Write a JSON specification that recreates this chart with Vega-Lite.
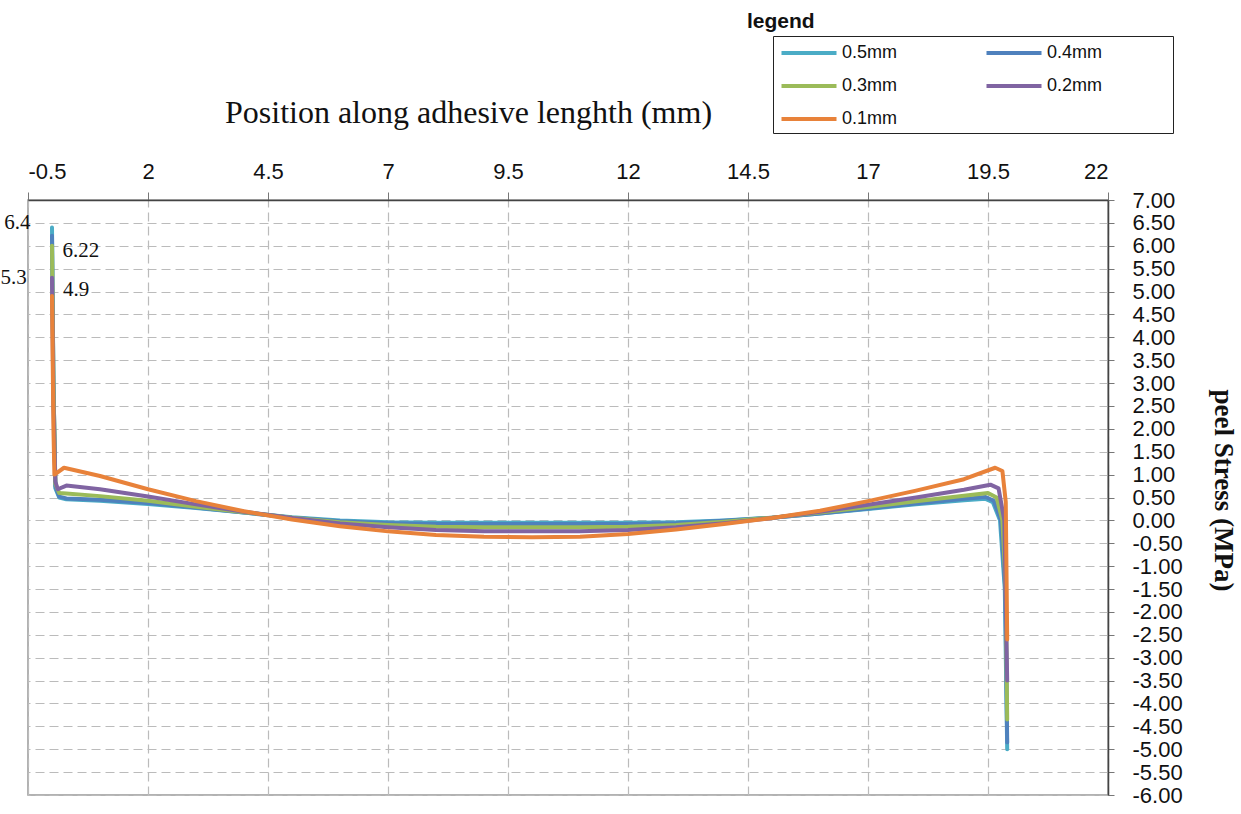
{
  "$schema": "https://vega.github.io/schema/vega-lite/v6.json",
  "width": 1080,
  "height": 595,
  "autosize": "none",
  "padding": {"left": 28, "top": 200, "right": 133, "bottom": 19},
  "background": "white",
  "config": {
    "view": {"stroke": "#999", "strokeWidth": 1.5},
    "font": "Liberation Sans"
  },
  "title": {
    "text": "legend",
    "anchor": "start",
    "frame": "group",
    "dx": 719,
    "font": "Liberation Sans",
    "fontSize": 21,
    "fontWeight": "bold",
    "color": "#111"
  },
  "data": {
    "values": [
      {"t": "0.5mm", "x": 0, "y": 6.4}, {"t": "0.5mm", "x": 0.03, "y": 3.0}, {"t": "0.5mm", "x": 0.07, "y": 0.7}, {"t": "0.5mm", "x": 0.15, "y": 0.5}, {"t": "0.5mm", "x": 0.3, "y": 0.46}, {"t": "0.5mm", "x": 1, "y": 0.43}, {"t": "0.5mm", "x": 2, "y": 0.36}, {"t": "0.5mm", "x": 3, "y": 0.27}, {"t": "0.5mm", "x": 4, "y": 0.17}, {"t": "0.5mm", "x": 5, "y": 0.07}, {"t": "0.5mm", "x": 6, "y": 0.0}, {"t": "0.5mm", "x": 7, "y": -0.04}, {"t": "0.5mm", "x": 8, "y": -0.05}, {"t": "0.5mm", "x": 9, "y": -0.05}, {"t": "0.5mm", "x": 10, "y": -0.05}, {"t": "0.5mm", "x": 11, "y": -0.05}, {"t": "0.5mm", "x": 12, "y": -0.05}, {"t": "0.5mm", "x": 13, "y": -0.04}, {"t": "0.5mm", "x": 14, "y": 0.0}, {"t": "0.5mm", "x": 15, "y": 0.06}, {"t": "0.5mm", "x": 16, "y": 0.15}, {"t": "0.5mm", "x": 17, "y": 0.25}, {"t": "0.5mm", "x": 18, "y": 0.35}, {"t": "0.5mm", "x": 19, "y": 0.44}, {"t": "0.5mm", "x": 19.45, "y": 0.47}, {"t": "0.5mm", "x": 19.6, "y": 0.4}, {"t": "0.5mm", "x": 19.75, "y": 0.0}, {"t": "0.5mm", "x": 19.85, "y": -1.5}, {"t": "0.5mm", "x": 19.9, "y": -5.0},
      {"t": "0.4mm", "x": 0, "y": 6.22}, {"t": "0.4mm", "x": 0.03, "y": 3.0}, {"t": "0.4mm", "x": 0.07, "y": 0.75}, {"t": "0.4mm", "x": 0.15, "y": 0.52}, {"t": "0.4mm", "x": 0.3, "y": 0.48}, {"t": "0.4mm", "x": 1, "y": 0.45}, {"t": "0.4mm", "x": 2, "y": 0.38}, {"t": "0.4mm", "x": 3, "y": 0.28}, {"t": "0.4mm", "x": 4, "y": 0.17}, {"t": "0.4mm", "x": 5, "y": 0.06}, {"t": "0.4mm", "x": 6, "y": -0.02}, {"t": "0.4mm", "x": 7, "y": -0.06}, {"t": "0.4mm", "x": 8, "y": -0.08}, {"t": "0.4mm", "x": 9, "y": -0.08}, {"t": "0.4mm", "x": 10, "y": -0.08}, {"t": "0.4mm", "x": 11, "y": -0.08}, {"t": "0.4mm", "x": 12, "y": -0.08}, {"t": "0.4mm", "x": 13, "y": -0.06}, {"t": "0.4mm", "x": 14, "y": -0.01}, {"t": "0.4mm", "x": 15, "y": 0.06}, {"t": "0.4mm", "x": 16, "y": 0.15}, {"t": "0.4mm", "x": 17, "y": 0.26}, {"t": "0.4mm", "x": 18, "y": 0.37}, {"t": "0.4mm", "x": 19, "y": 0.47}, {"t": "0.4mm", "x": 19.45, "y": 0.51}, {"t": "0.4mm", "x": 19.62, "y": 0.43}, {"t": "0.4mm", "x": 19.77, "y": 0.0}, {"t": "0.4mm", "x": 19.86, "y": -1.5}, {"t": "0.4mm", "x": 19.9, "y": -4.85},
      {"t": "0.3mm", "x": 0, "y": 6.0}, {"t": "0.3mm", "x": 0.03, "y": 3.0}, {"t": "0.3mm", "x": 0.07, "y": 0.8}, {"t": "0.3mm", "x": 0.15, "y": 0.6}, {"t": "0.3mm", "x": 0.3, "y": 0.59}, {"t": "0.3mm", "x": 1, "y": 0.53}, {"t": "0.3mm", "x": 2, "y": 0.43}, {"t": "0.3mm", "x": 3, "y": 0.3}, {"t": "0.3mm", "x": 4, "y": 0.18}, {"t": "0.3mm", "x": 5, "y": 0.06}, {"t": "0.3mm", "x": 6, "y": -0.04}, {"t": "0.3mm", "x": 7, "y": -0.1}, {"t": "0.3mm", "x": 8, "y": -0.14}, {"t": "0.3mm", "x": 9, "y": -0.15}, {"t": "0.3mm", "x": 10, "y": -0.15}, {"t": "0.3mm", "x": 11, "y": -0.15}, {"t": "0.3mm", "x": 12, "y": -0.14}, {"t": "0.3mm", "x": 13, "y": -0.1}, {"t": "0.3mm", "x": 14, "y": -0.03}, {"t": "0.3mm", "x": 15, "y": 0.06}, {"t": "0.3mm", "x": 16, "y": 0.17}, {"t": "0.3mm", "x": 17, "y": 0.29}, {"t": "0.3mm", "x": 18, "y": 0.42}, {"t": "0.3mm", "x": 19, "y": 0.54}, {"t": "0.3mm", "x": 19.5, "y": 0.6}, {"t": "0.3mm", "x": 19.68, "y": 0.5}, {"t": "0.3mm", "x": 19.8, "y": 0.0}, {"t": "0.3mm", "x": 19.87, "y": -1.5}, {"t": "0.3mm", "x": 19.9, "y": -4.35},
      {"t": "0.2mm", "x": 0, "y": 5.3}, {"t": "0.2mm", "x": 0.03, "y": 2.5}, {"t": "0.2mm", "x": 0.07, "y": 0.85}, {"t": "0.2mm", "x": 0.12, "y": 0.68}, {"t": "0.2mm", "x": 0.3, "y": 0.76}, {"t": "0.2mm", "x": 1, "y": 0.68}, {"t": "0.2mm", "x": 2, "y": 0.52}, {"t": "0.2mm", "x": 3, "y": 0.35}, {"t": "0.2mm", "x": 4, "y": 0.19}, {"t": "0.2mm", "x": 5, "y": 0.05}, {"t": "0.2mm", "x": 6, "y": -0.07}, {"t": "0.2mm", "x": 7, "y": -0.15}, {"t": "0.2mm", "x": 8, "y": -0.21}, {"t": "0.2mm", "x": 9, "y": -0.24}, {"t": "0.2mm", "x": 10, "y": -0.24}, {"t": "0.2mm", "x": 11, "y": -0.24}, {"t": "0.2mm", "x": 12, "y": -0.21}, {"t": "0.2mm", "x": 13, "y": -0.15}, {"t": "0.2mm", "x": 14, "y": -0.06}, {"t": "0.2mm", "x": 15, "y": 0.05}, {"t": "0.2mm", "x": 16, "y": 0.19}, {"t": "0.2mm", "x": 17, "y": 0.34}, {"t": "0.2mm", "x": 18, "y": 0.5}, {"t": "0.2mm", "x": 19, "y": 0.67}, {"t": "0.2mm", "x": 19.55, "y": 0.78}, {"t": "0.2mm", "x": 19.72, "y": 0.7}, {"t": "0.2mm", "x": 19.84, "y": 0.0}, {"t": "0.2mm", "x": 19.9, "y": -3.5},
      {"t": "0.1mm", "x": 0, "y": 4.9}, {"t": "0.1mm", "x": 0.03, "y": 2.0}, {"t": "0.1mm", "x": 0.05, "y": 1.0}, {"t": "0.1mm", "x": 0.25, "y": 1.15}, {"t": "0.1mm", "x": 1, "y": 0.97}, {"t": "0.1mm", "x": 2, "y": 0.68}, {"t": "0.1mm", "x": 3, "y": 0.42}, {"t": "0.1mm", "x": 4, "y": 0.2}, {"t": "0.1mm", "x": 5, "y": 0.02}, {"t": "0.1mm", "x": 6, "y": -0.13}, {"t": "0.1mm", "x": 7, "y": -0.24}, {"t": "0.1mm", "x": 8, "y": -0.32}, {"t": "0.1mm", "x": 9, "y": -0.36}, {"t": "0.1mm", "x": 10, "y": -0.37}, {"t": "0.1mm", "x": 11, "y": -0.36}, {"t": "0.1mm", "x": 12, "y": -0.3}, {"t": "0.1mm", "x": 13, "y": -0.2}, {"t": "0.1mm", "x": 14, "y": -0.08}, {"t": "0.1mm", "x": 15, "y": 0.05}, {"t": "0.1mm", "x": 16, "y": 0.21}, {"t": "0.1mm", "x": 17, "y": 0.42}, {"t": "0.1mm", "x": 18, "y": 0.65}, {"t": "0.1mm", "x": 19, "y": 0.9}, {"t": "0.1mm", "x": 19.65, "y": 1.15}, {"t": "0.1mm", "x": 19.8, "y": 1.08}, {"t": "0.1mm", "x": 19.87, "y": 0.4}, {"t": "0.1mm", "x": 19.9, "y": -2.6}
    ]
  },
  "layer": [
    {
      "mark": {"type": "line", "strokeWidth": 4, "strokeJoin": "round", "strokeCap": "round"},
      "encoding": {
        "x": {
          "field": "x", "type": "quantitative",
          "scale": {"domain": [-0.5, 22], "nice": false, "zero": false},
          "axis": {
            "orient": "top",
            "values": [-0.5, 2, 4.5, 7, 9.5, 12, 14.5, 17, 19.5, 22],
            "tickCount": 20,
            "labelExpr": "(datum.value < 0 ? '-' : '') + format(abs(datum.value), '')",
            "labelFontSize": 22, "labelColor": "#111", "labelPadding": 9, "labelOverlap": false,
            "domainColor": "#444", "domainWidth": 1.5,
            "tickColor": "#777", "tickSize": 8,
            "grid": true, "gridDash": [9, 5], "gridColor": "#bbb", "gridWidth": 1.2,
            "title": "Position along adhesive lenghth (mm)",
            "titleFont": "Liberation Serif", "titleFontSize": 32, "titleFontWeight": "normal",
            "titleColor": "#111", "titleX": 440, "titlePadding": 31
          }
        },
        "y": {
          "field": "y", "type": "quantitative",
          "scale": {"domain": [-6, 7], "nice": false, "zero": false},
          "axis": {
            "orient": "right",
            "values": [-6, -5.5, -5, -4.5, -4, -3.5, -3, -2.5, -2, -1.5, -1, -0.5, 0, 0.5, 1, 1.5, 2, 2.5, 3, 3.5, 4, 4.5, 5, 5.5, 6, 6.5, 7],
            "tickCount": 40,
            "labelExpr": "(datum.value < 0 ? '-' : '') + format(abs(datum.value), '.2f')",
            "labelFontSize": 22, "labelColor": "#111", "labelPadding": 18, "labelOverlap": false,
            "domainColor": "#444", "domainWidth": 1.5,
            "tickColor": "#777", "tickSize": 6,
            "grid": true, "gridDash": [9, 5], "gridColor": "#bbb", "gridWidth": 1.2,
            "title": "peel Stress (MPa)",
            "titleFont": "Liberation Serif", "titleFontSize": 27, "titleFontWeight": "bold",
            "titleColor": "#111", "titleAngle": 90, "titleBaseline": "middle", "titleX": 114, "titleY": 290
          }
        },
        "color": {
          "field": "t", "type": "nominal",
          "scale": {
            "domain": ["0.5mm", "0.4mm", "0.3mm", "0.2mm", "0.1mm"],
            "range": ["#4BACC6", "#4F81BD", "#9BBB59", "#8064A2", "#E8823A"]
          },
          "sort": ["0.5mm", "0.4mm", "0.3mm", "0.2mm", "0.1mm"],
          "legend": {
            "orient": "none", "legendX": 745, "legendY": -164,
            "title": null, "columns": 2, "direction": "horizontal",
            "strokeColor": "#222", "fillColor": "white", "padding": 5,
            "symbolType": "M-0.85,0H4.65", "symbolStrokeWidth": 4, "symbolSize": 400,
            "labelFontSize": 18, "labelColor": "#111", "labelOffset": 40,
            "labelExpr": "datum.label + ((datum.label == '0.4mm' || datum.label == '0.2mm') ? '\u00a0\u00a0\u00a0\u00a0\u00a0\u00a0\u00a0\u00a0\u00a0\u00a0\u00a0\u00a0\u00a0\u200b' : '')",
            "columnPadding": 80, "rowPadding": 12
          }
        }
      }
    },
    {
      "data": {
        "values": [
          {"label": "6.4", "x": -0.72, "y": 6.5},
          {"label": "6.22", "x": 0.6, "y": 5.88},
          {"label": "5.3", "x": -0.8, "y": 5.3},
          {"label": "4.9", "x": 0.5, "y": 5.03}
        ]
      },
      "mark": {"type": "text", "font": "Liberation Serif", "fontSize": 21, "color": "#111", "clip": false},
      "encoding": {
        "x": {"field": "x", "type": "quantitative"},
        "y": {"field": "y", "type": "quantitative"},
        "text": {"field": "label"}
      }
    }
  ]
}
